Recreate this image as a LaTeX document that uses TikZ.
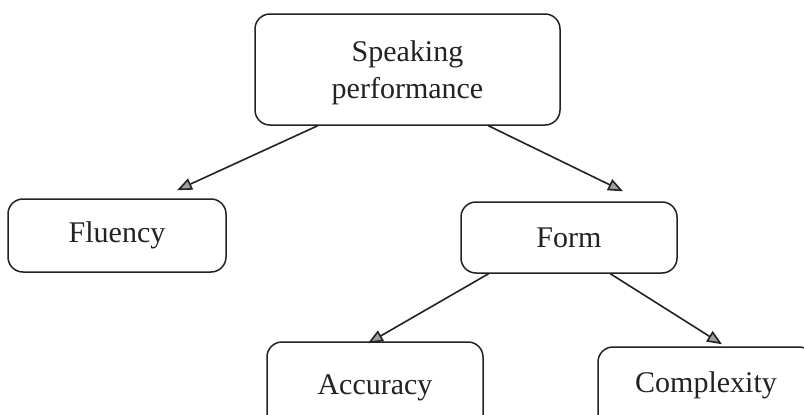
\documentclass[tikz,border=0pt]{standalone}
\usepackage{fontspec}
\setmainfont{Liberation Serif}
\usetikzlibrary{arrows.meta,calc}
\definecolor{ink}{HTML}{222222}
\tikzset{
  box/.style={draw=ink, line width=1.5pt, rounded corners=15pt, text=ink,
    font=\fontsize{30}{37}\selectfont, align=center, inner sep=0pt},
  link/.style={draw=ink, line width=1.6pt,
    -{Triangle[length=15pt,width=12pt,fill=gray!75]}},
}
% lift a label inside its box without changing the box size
\newcommand{\liftlabel}[2]{\raisebox{#1}[\height][\depth]{#2}}
\begin{document}
\begin{tikzpicture}[x=1pt,y=-1pt]
\useasboundingbox (0,0) rectangle (804,415);
\clip (0,0) rectangle (804,415);
\fill[white] (0,0) rectangle (804,415);

\node[box, minimum width=305pt, minimum height=111pt] (sp) at (407.5,69.5) {\rule{0pt}{28pt}Speaking\\performance};
\node[box, minimum width=218pt, minimum height=73pt] (flu) at (117,235.5) {Fluency};
\node[box, minimum width=216pt, minimum height=71pt] (form) at (569,237.5) {Form};
% the two lower boxes run past the bottom edge of the picture
\node[box, minimum width=216pt, minimum height=110pt] (acc) at (375,397) {\liftlabel{9pt}{Accuracy}};
\node[box, minimum width=216pt, minimum height=110pt] (cpx) at (706,402) {\liftlabel{17pt}{Complexity}};

% arrow end points just above the child boxes
\coordinate (fluTip) at ($(flu.north)+(60,-8)$);
\coordinate (formTip) at ($(form.north)+(54,-10)$);
\coordinate (accTip) at ($(acc.north)+(-7,2)$);
\coordinate (cpxTip) at ($(cpx.north)+(16,-2)$);

\draw[link] ($(sp.south west)!0.207!(sp.south east)$) -- (fluTip);
\draw[link] ($(sp.south west)!0.764!(sp.south east)$) -- (formTip);
\draw[link] ($(form.south west)!0.13!(form.south east)$) -- (accTip);
\draw[link] ($(form.south west)!0.69!(form.south east)$) -- (cpxTip);
\end{tikzpicture}
\end{document}
